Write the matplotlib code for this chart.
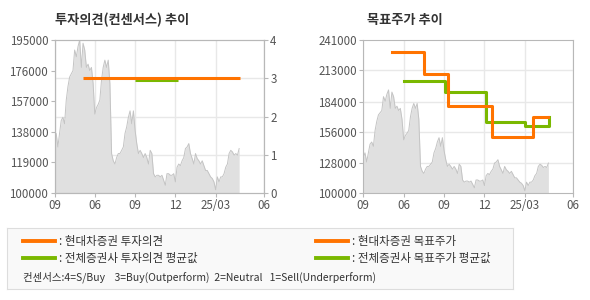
import matplotlib as mpl
mpl.use("agg")
import matplotlib.pyplot as plt
import numpy as np

plt.rcParams['font.family'] = ['Noto Sans CJK KR', 'DejaVu Sans']

# stock price (roughly evenly spaced in time)
price = [132800, 137000, 128600, 137000, 145000, 147000, 143000, 157700, 166000, 172000,
         174000, 176000, 188800, 184600, 190900, 195000, 178000, 193000, 188800, 178000,
         180000, 176000, 178000, 168000, 149000, 153000, 155000, 157700, 170000, 178000,
         182500, 178000, 182500, 168000, 124500, 120000, 118000, 122000, 124500, 124500,
         126500, 128600, 137000, 141000, 147000, 151000, 143000, 151000, 139000, 130700,
         124500, 126500, 124500, 122000, 124500, 122000, 118000, 126500, 124500, 112000,
         110000, 111000, 111000, 110000, 111000, 108000, 104800, 112000, 112000, 111000,
         111000, 112000, 106900, 116000, 118000, 117000, 120000, 122000, 127600, 128600,
         130700, 124500, 121400, 118000, 124500, 121400, 120000, 118000, 120000, 117000,
         114000, 114000, 112000, 110000, 109000, 106900, 102000, 110000, 106900, 110000,
         110000, 112000, 116000, 118000, 124500, 126500, 125500, 123500, 124500, 123500,
         127600]
price_end = 13.75  # months from start of axis

# opinion lines (x in months from axis start)
op_x = [2.1, 13.84]
op_val = [3, 3]
avg_op_x = [6.02, 9.16]
avg_op_val = [2.95, 2.95]

# target prices (step changes)
tp_x = [2.15, 4.5, 6.26, 9.56, 12.62, 13.74]
tp_val = [230000, 210000, 180000, 152000, 170000, 170000]
avg_tp_x = [3.0, 6.07, 9.09, 12.0, 13.77, 13.77]
avg_tp_val = [203500, 193300, 165600, 161600, 161600, 170000]

xtick_pos = [0, 3, 6, 9, 12, 15.6]
xtick_lab = ["09", "06", "09", "12", "25/03", "06"]

orange = "#FF7300"
green = "#7AB800"
tick_col = "#555555"
grid_col = "#E8E8E8"
spine_col = "#B8B8B8"

fig = plt.figure(figsize=(5.9, 3.0), dpi=100)

def style(ax):
    for s in ax.spines.values():
        s.set_color(spine_col)
    ax.tick_params(colors=spine_col, labelcolor=tick_col, labelsize=8.3, length=3, width=0.8, pad=1.5)

def price_area(ax, ymin):
    xs = np.linspace(0, price_end, len(price))
    ax.fill_between(xs, ymin, price, color="#E0E0E0", lw=0, zorder=1)
    ax.plot(xs, price, color="#C4C4C4", lw=0.7, zorder=2)

# left: opinion
ax1 = fig.add_axes([54.5/590, 1-193/300, 209.5/590, 153/300])
price_area(ax1, 100000)
ax1.set_ylim(100000, 195000)
ax1.set_yticks([100000, 119000, 138000, 157000, 176000, 195000])
ax1.set_xlim(0, 15.6)
ax1.set_xticks(xtick_pos)
ax1.set_xticklabels(xtick_lab)
for xp in xtick_pos:
    ax1.axvline(xp, color=grid_col, lw=1, zorder=0.5)
style(ax1)
ax2 = ax1.twinx()
ax2.set_ylim(0, 4)
ax2.set_yticks([0, 1, 2, 3, 4])
for yv in [1, 2, 3]:
    ax1.axhline(100000 + yv * 95000 / 4, color=grid_col, lw=1, zorder=0.5)
ax2.plot(avg_op_x, avg_op_val, color=green, lw=2.2, solid_capstyle="butt")
ax2.plot(op_x, op_val, color=orange, lw=2.2, solid_capstyle="butt")
style(ax2)
fig.text(55/590, 1-20/300, "투자의견(컨센서스) 추이", fontsize=9.5, fontweight="bold", color="#333333", va="center")

# right: target price
ax3 = fig.add_axes([363.3/590, 1-193/300, 210/590, 153/300])
price_area(ax3, 100000)
ax3.set_ylim(100000, 241000)
yt = [100000, 128000, 156000, 184000, 213000, 241000]
ax3.set_yticks(yt)
ax3.set_xlim(0, 15.6)
ax3.set_xticks(xtick_pos)
ax3.set_xticklabels(xtick_lab)
for xp in xtick_pos:
    ax3.axvline(xp, color=grid_col, lw=1, zorder=0.5)
for yv in yt[1:-1]:
    ax3.axhline(yv, color=grid_col, lw=1, zorder=0.5)
ax3.step(avg_tp_x, avg_tp_val, where="post", color=green, lw=2.2, zorder=3)
ax3.step(tp_x, tp_val, where="post", color=orange, lw=2.2, zorder=4)
style(ax3)
fig.text(367/590, 1-20/300, "목표주가 추이", fontsize=9.5, fontweight="bold", color="#333333", va="center")

# legend box
box = fig.add_axes([7/590, 1-289/300, 506/590, 61/300])
box.set_xlim(0, 590)
box.set_ylim(300, 0)
box.set_xticks([])
box.set_yticks([])
box.set_facecolor("#F9F9F9")
for s in box.spines.values():
    s.set_color("#DDDDDD")
leg = [
    (23, 241, orange, ": 현대차증권 투자의견"),
    (23, 258, green, ": 전체증권사 투자의견 평균값"),
    (316, 241, orange, ": 현대차증권 목표주가"),
    (316, 258, green, ": 전체증권사 목표주가 평균값"),
]
for x0, y0, c, t in leg:
    fig.lines.append(plt.Line2D([x0/590, (x0+32)/590], [1-y0/300, 1-y0/300],
                                transform=fig.transFigure, color=c, lw=2.8))
    fig.text((x0+36)/590, 1-y0/300, t, fontsize=8.3, color="#333333", va="center")
fig.text(23/590, 1-277/300, "컨센서스:4=S/Buy    3=Buy(Outperform)  2=Neutral   1=Sell(Underperform)",
         fontsize=7.5, color="#333333", va="center")

fig.savefig("out.png", dpi=100)
